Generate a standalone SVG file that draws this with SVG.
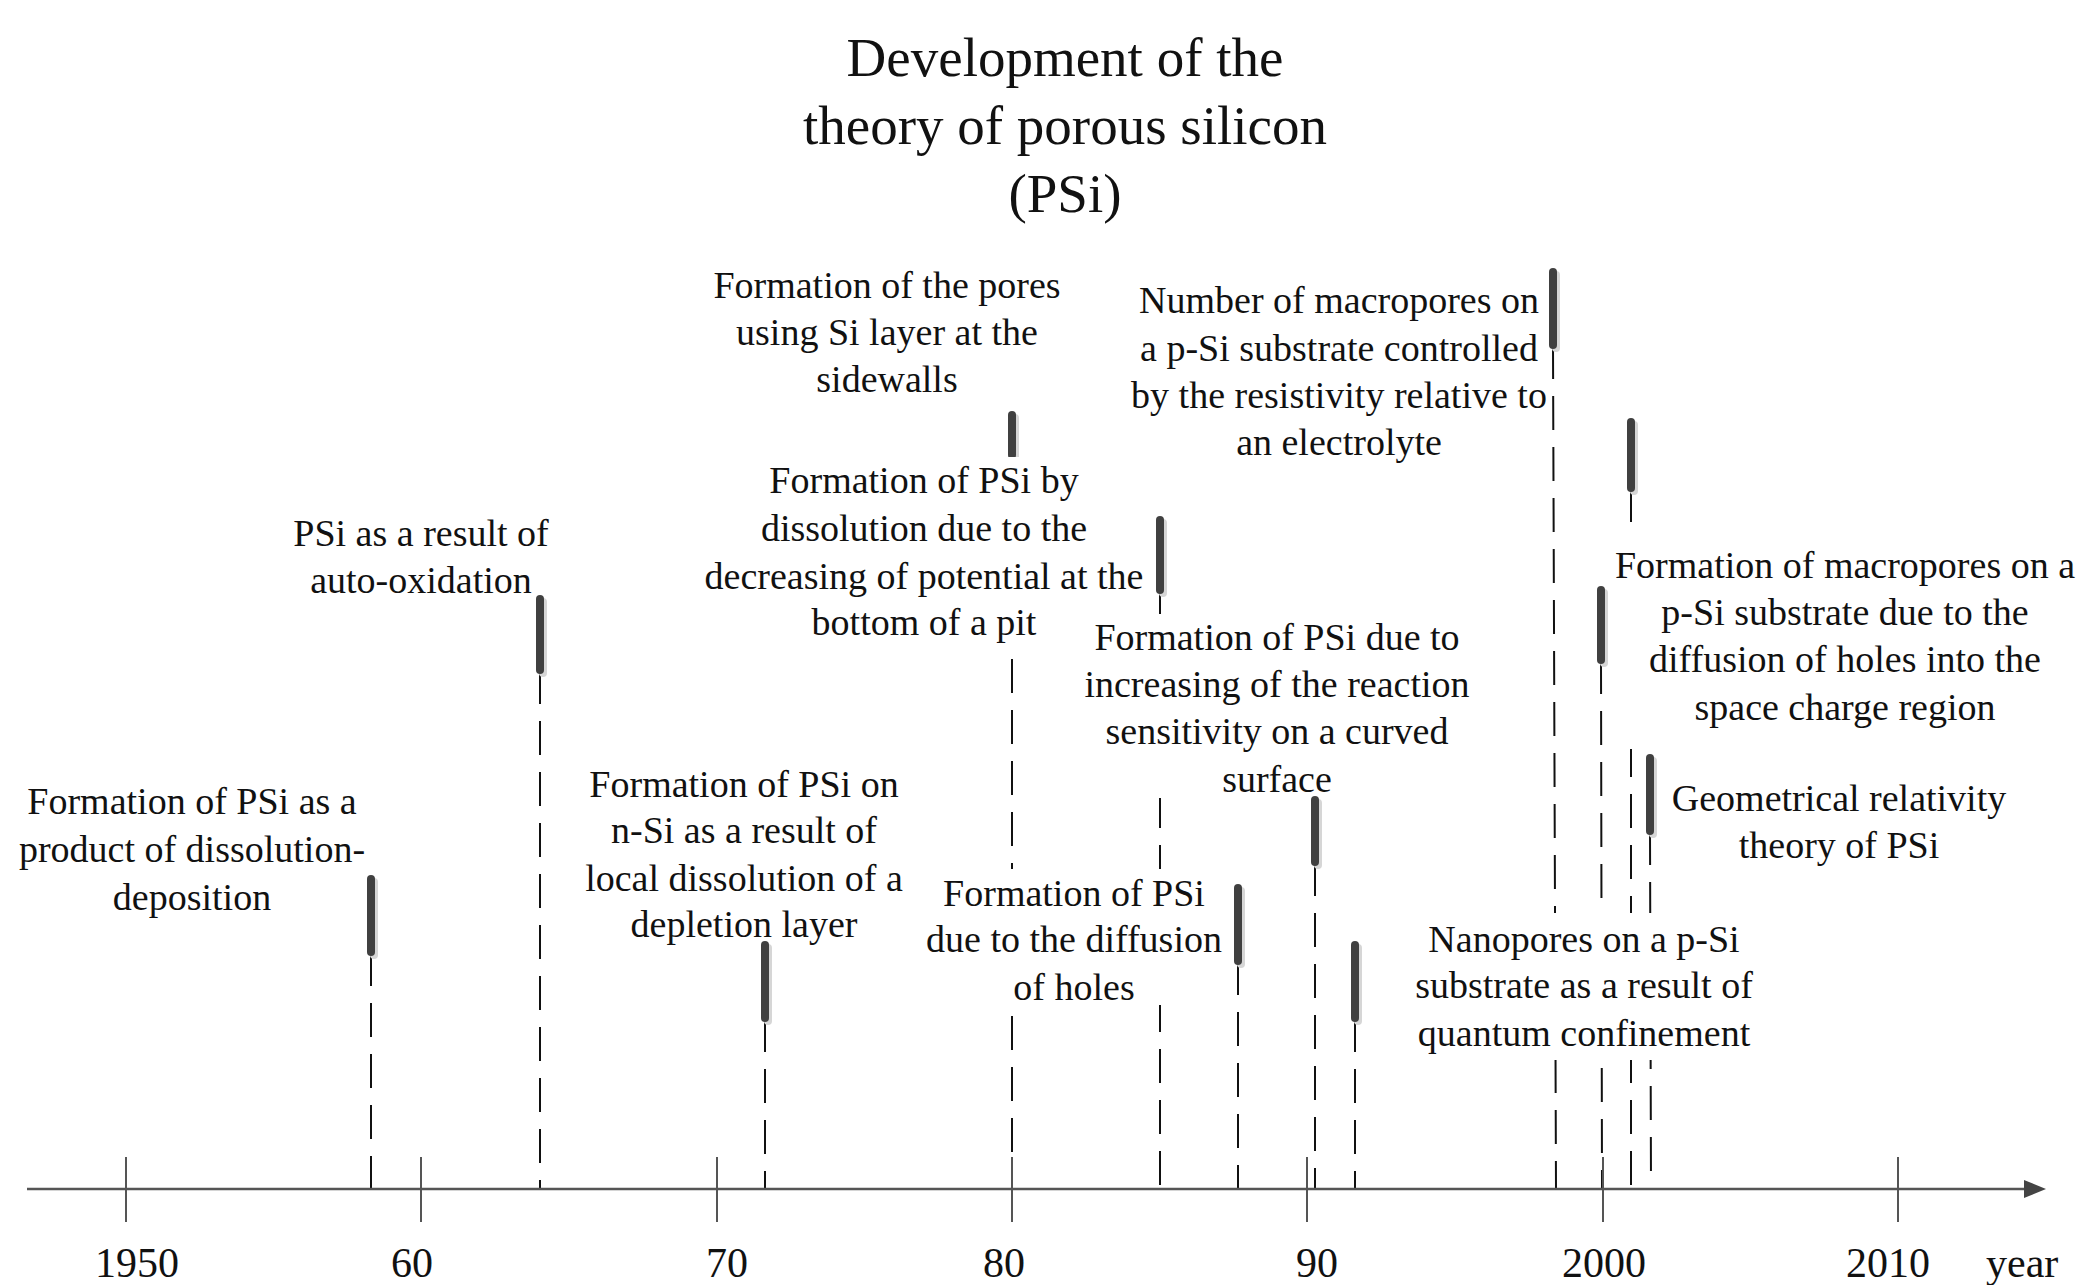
<svg xmlns="http://www.w3.org/2000/svg" width="2079" height="1285" viewBox="0 0 2079 1285">
<style>
text{font-family:"Liberation Serif","Times New Roman",serif;fill:#111}
.title{font-size:55px;text-anchor:middle}
.lbl{font-size:38px;text-anchor:middle}
.num{font-size:42px;text-anchor:middle}
.bg{fill:#fff;stroke:none}
.bar{stroke:#404040;stroke-width:8;stroke-linecap:round}
.sh{stroke:#d6d6d6;stroke-width:8;stroke-linecap:round}
.dash{stroke:#111;stroke-width:2;stroke-dasharray:34 17;fill:none}
.axis{stroke:#555;stroke-width:2.5}
.tick{stroke:#555;stroke-width:2}
</style>
<defs>
<marker id="arr" markerWidth="22" markerHeight="18" refX="2" refY="9" orient="auto" markerUnits="userSpaceOnUse" viewBox="0 0 22 18">
<path d="M0,0 L22,9 L0,18 Z" fill="#444"/>
</marker>
</defs>
<rect width="2079" height="1285" fill="#fff"/>
<g id="title">
<text class="title" x="1065" y="76">Development of the</text>
<text class="title" x="1065" y="144">theory of porous silicon</text>
<text class="title" x="1065" y="212">(PSi)</text>
</g>
<g id="connectors">
<line class="dash" x1="371" y1="952" x2="371" y2="1189"/>
<line class="dash" x1="540" y1="670" x2="540" y2="1189"/>
<line class="dash" x1="765" y1="1018" x2="765" y2="1189"/>
<line class="dash" x1="1012" y1="455" x2="1012" y2="1189"/>
<line class="dash" x1="1160" y1="590" x2="1160" y2="1189"/>
<line class="dash" x1="1238" y1="961" x2="1238" y2="1189"/>
<line class="dash" x1="1315" y1="862" x2="1315" y2="1189"/>
<line class="dash" x1="1355" y1="1018" x2="1355" y2="1189"/>
<line class="dash" x1="1553" y1="345" x2="1556" y2="1189"/>
<line class="dash" x1="1601" y1="660" x2="1602" y2="1189"/>
<line class="dash" x1="1631" y1="488" x2="1631" y2="1189"/>
<line class="dash" x1="1650" y1="831" x2="1651" y2="1189"/>
</g>
<g id="axis">
<line class="axis" x1="27" y1="1189" x2="2026" y2="1189" marker-end="url(#arr)"/>
<line class="tick" x1="126" y1="1157" x2="126" y2="1222"/>
<line class="tick" x1="421" y1="1157" x2="421" y2="1222"/>
<line class="tick" x1="717" y1="1157" x2="717" y2="1222"/>
<line class="tick" x1="1012" y1="1157" x2="1012" y2="1222"/>
<line class="tick" x1="1307" y1="1157" x2="1307" y2="1222"/>
<line class="tick" x1="1603" y1="1157" x2="1603" y2="1222"/>
<line class="tick" x1="1898" y1="1157" x2="1898" y2="1222"/>
<text class="num" x="137" y="1277">1950</text>
<text class="num" x="412" y="1277">60</text>
<text class="num" x="727" y="1277">70</text>
<text class="num" x="1004" y="1277">80</text>
<text class="num" x="1317" y="1277">90</text>
<text class="num" x="1604" y="1277">2000</text>
<text class="num" x="1888" y="1277">2010</text>
<text x="1986" y="1277" style="font-size:42px">year</text>
</g>
<g id="n1">
<rect class="bg" x="15" y="777" width="352" height="145"/>
<text class="lbl" x="192" y="814">Formation of PSi as a</text>
<text class="lbl" x="192" y="862">product of dissolution-</text>
<text class="lbl" x="192" y="910">deposition</text>
<line class="sh" x1="374" y1="882" x2="374" y2="955"/>
<line class="bar" x1="371" y1="879" x2="371" y2="952"/>
</g>
<g id="n2">
<rect class="bg" x="289" y="509" width="264" height="96"/>
<text class="lbl" x="421" y="546">PSi as a result of</text>
<text class="lbl" x="421" y="593">auto-oxidation</text>
<line class="sh" x1="543" y1="602" x2="543" y2="673"/>
<line class="bar" x1="540" y1="599" x2="540" y2="670"/>
</g>
<g id="n3">
<rect class="bg" x="580" y="760" width="330" height="185"/>
<text class="lbl" x="744" y="797">Formation of PSi on</text>
<text class="lbl" x="744" y="843">n-Si as a result of</text>
<text class="lbl" x="744" y="891">local dissolution of a</text>
<text class="lbl" x="744" y="937">depletion layer</text>
<line class="sh" x1="768" y1="948" x2="768" y2="1021"/>
<line class="bar" x1="765" y1="945" x2="765" y2="1018"/>
</g>
<g id="n4">
<rect class="bg" x="710" y="261" width="355" height="143"/>
<text class="lbl" x="887" y="298">Formation of the pores</text>
<text class="lbl" x="887" y="345">using Si layer at the</text>
<text class="lbl" x="887" y="392">sidewalls</text>
<line class="sh" x1="1015" y1="418" x2="1015" y2="458"/>
<line class="bar" x1="1012" y1="415" x2="1012" y2="455"/>
</g>
<g id="n5">
<rect class="bg" x="698" y="457" width="452" height="190"/>
<text class="lbl" x="924" y="493">Formation of PSi by</text>
<text class="lbl" x="924" y="541">dissolution due to the</text>
<text class="lbl" x="924" y="589">decreasing of potential at the</text>
<text class="lbl" x="924" y="635">bottom of a pit</text>
<line class="sh" x1="1163" y1="523" x2="1163" y2="593"/>
<line class="bar" x1="1160" y1="520" x2="1160" y2="590"/>
</g>
<g id="n6">
<rect class="bg" x="1127" y="276" width="422" height="191"/>
<text class="lbl" x="1339" y="313">Number of macropores on</text>
<text class="lbl" x="1339" y="361">a p-Si substrate controlled</text>
<text class="lbl" x="1339" y="408">by the resistivity relative to</text>
<text class="lbl" x="1339" y="455">an electrolyte</text>
<line class="sh" x1="1556" y1="275" x2="1556" y2="348"/>
<line class="bar" x1="1553" y1="272" x2="1553" y2="345"/>
</g>
<g id="n7">
<rect class="bg" x="1079" y="614" width="396" height="184"/>
<text class="lbl" x="1277" y="650">Formation of PSi due to</text>
<text class="lbl" x="1277" y="697">increasing of the reaction</text>
<text class="lbl" x="1277" y="744">sensitivity on a curved</text>
<text class="lbl" x="1277" y="792">surface</text>
<line class="sh" x1="1318" y1="803" x2="1318" y2="865"/>
<line class="bar" x1="1315" y1="800" x2="1315" y2="862"/>
</g>
<g id="n8">
<rect class="bg" x="921" y="869" width="306" height="136"/>
<text class="lbl" x="1074" y="906">Formation of PSi</text>
<text class="lbl" x="1074" y="952">due to the diffusion</text>
<text class="lbl" x="1074" y="1000">of holes</text>
<line class="sh" x1="1241" y1="891" x2="1241" y2="964"/>
<line class="bar" x1="1238" y1="888" x2="1238" y2="961"/>
</g>
<g id="n9">
<rect class="bg" x="1410" y="913" width="348" height="147"/>
<text class="lbl" x="1584" y="952">Nanopores on a p-Si</text>
<text class="lbl" x="1584" y="998">substrate as a result of</text>
<text class="lbl" x="1584" y="1046">quantum confinement</text>
<line class="sh" x1="1358" y1="948" x2="1358" y2="1021"/>
<line class="bar" x1="1355" y1="945" x2="1355" y2="1018"/>
</g>
<g id="n10">
<line class="sh" x1="1604" y1="593" x2="1604" y2="663"/>
<line class="bar" x1="1601" y1="590" x2="1601" y2="660"/>
</g>
<g id="n11">
<rect class="bg" x="1611" y="524" width="468" height="225"/>
<text class="lbl" x="1845" y="578">Formation of macropores on a</text>
<text class="lbl" x="1845" y="625">p-Si substrate due to the</text>
<text class="lbl" x="1845" y="672">diffusion of holes into the</text>
<text class="lbl" x="1845" y="720">space charge region</text>
<line class="sh" x1="1634" y1="425" x2="1634" y2="491"/>
<line class="bar" x1="1631" y1="422" x2="1631" y2="488"/>
</g>
<g id="n12">
<rect class="bg" x="1668" y="774" width="342" height="96"/>
<text class="lbl" x="1839" y="811">Geometrical relativity</text>
<text class="lbl" x="1839" y="858">theory of PSi</text>
<line class="sh" x1="1653" y1="761" x2="1653" y2="834"/>
<line class="bar" x1="1650" y1="758" x2="1650" y2="831"/>
</g>
</svg>
